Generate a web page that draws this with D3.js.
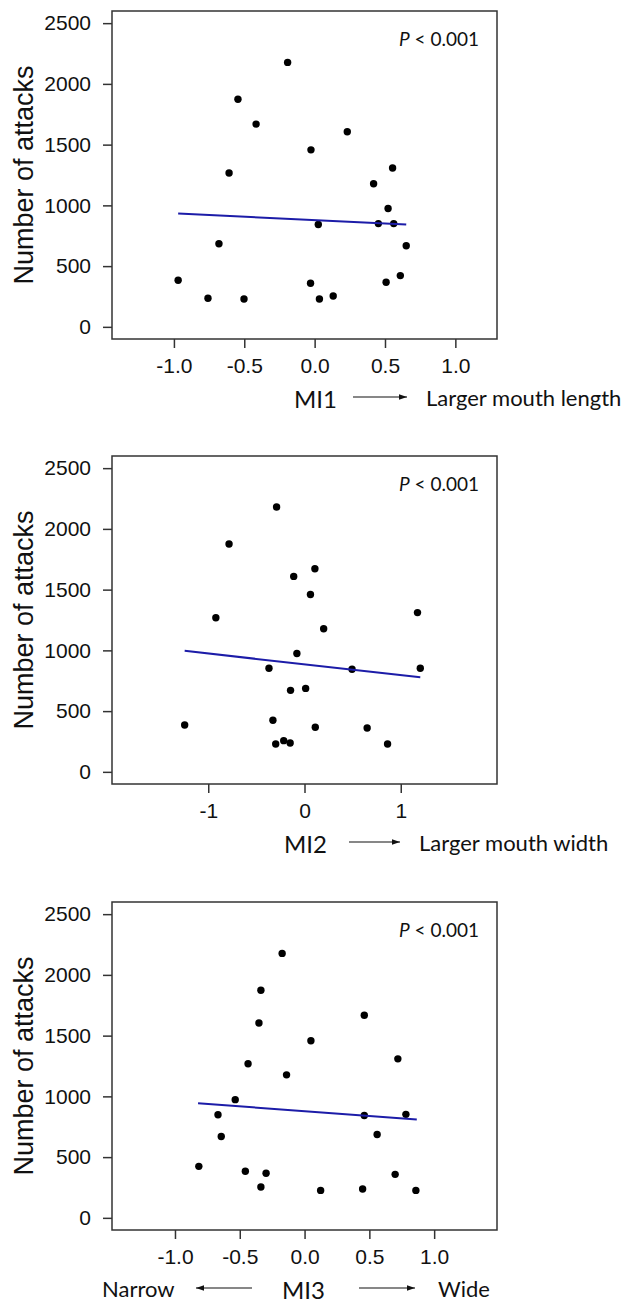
<!DOCTYPE html>
<html lang="en">
<head>
    <meta charset="UTF-8">
    <script src="https://cdn.jsdelivr.net/npm/d3@7"></script>
    <title>Number of attacks vs mouth indices</title>
    <style>
        body {
            margin: 0;
            background: #fff;
        }
        .tick-label {
            font-family: "Liberation Sans", Arial, sans-serif;
            font-size: 21px;
            fill: #111;
        }
        .y-title {
            font-family: "Liberation Sans", Arial, sans-serif;
            font-size: 27px;
            fill: #111;
        }
        .note, .mi-label, .desc {
            font-family: Lato, "Open Sans", sans-serif;
            fill: #111;
        }
    </style>
</head>
<body>
<div id="chart"></div>
<script>
    // values
    const yTicks = [0, 500, 1000, 1500, 2000, 2500];
    const xTicks13 = [-1.0, -0.5, 0.0, 0.5, 1.0];
    const xTicks2 = [-1, 0, 1];

    const mi1X = [-0.192, -0.545, -0.416, 0.232, -0.026, -0.608, 0.554, 0.419, 0.522, 0.026, 0.453,
                  0.562, -0.680, 0.651, -0.970, -0.029, 0.508, 0.609, -0.758, -0.502, 0.034, 0.132];
    const mi1Y = [2177, 1874, 1669, 1606, 1457, 1267, 1308, 1178, 974, 842, 850,
                  850, 684, 668, 384, 359, 367, 422, 235, 229, 229, 254];
    const mi1Fit = [[-0.970, 933], [0.651, 842]];

    const mi2X = [-0.290, -0.784, 0.108, -0.112, 0.062, -0.921, 1.174, 0.199, -0.079, -0.369, 0.494,
                  1.203, -0.145, 0.012, -1.245, -0.328, 0.112, 0.651, -0.299, -0.216, -0.149, 0.863];
    const mi2Y = [2180, 1876, 1672, 1609, 1460, 1269, 1311, 1178, 974, 853, 844,
                  853, 671, 687, 386, 425, 367, 361, 229, 257, 237, 229];
    const mi2Fit = [[-1.245, 996], [1.203, 778]];

    const mi3X = [-0.173, -0.337, 0.461, -0.352, 0.049, 0.720, -0.436, -0.139, -0.535, -0.668, 0.461,
                  0.782, -0.643, 0.560, -0.816, -0.457, -0.297, 0.699, -0.337, 0.124, 0.448, 0.859];
    const mi3Y = [2177, 1874, 1668, 1604, 1458, 1309, 1268, 1177, 973, 849, 843,
                  852, 670, 686, 424, 383, 367, 358, 254, 226, 237, 226];
    const mi3Fit = [[-0.822, 943], [0.866, 810]];

    const width = 627, height = 1304;
    const boxLeft = 112, boxW = 385, boxH = 328;

    const svg = d3.select("#chart").append("svg")
        .attr("width", width)
        .attr("height", height);

    svg.append("defs").append("marker")
        .attr("id", "head")
        .attr("viewBox", "0 0 10 10")
        .attr("refX", 10).attr("refY", 5)
        .attr("markerWidth", 8).attr("markerHeight", 8)
        .attr("markerUnits", "userSpaceOnUse")
        .attr("orient", "auto")
        .append("path")
        .attr("d", "M0,1.5L10,5L0,8.5Z")
        .attr("fill", "#111");

    // plain hyphen for negative numbers, like the original
    const locale = d3.formatLocale({ decimal: ".", thousands: ",", grouping: [3], currency: ["", ""], minus: "-" });
    const fmt1 = locale.format(".1f");
    const fmt0 = locale.format("d");

    const drawPanel = (p) => {
        const g = svg.append("g").attr("transform", `translate(0,${p.top})`);
        const x = d3.scaleLinear().domain(p.xDomain).range([boxLeft, boxLeft + boxW]);
        const y = d3.scaleLinear().domain([-100, 2600]).range([boxH, 0]);

        g.append("rect")
            .attr("x", boxLeft).attr("y", 0)
            .attr("width", boxW).attr("height", boxH)
            .attr("fill", "none").attr("stroke", "#333").attr("stroke-width", 1.5);

        const yAxis = g.append("g")
            .attr("transform", `translate(${boxLeft},0)`)
            .call(d3.axisLeft(y).tickValues(yTicks).tickSize(9).tickPadding(12).tickFormat(fmt0));
        const xAxis = g.append("g")
            .attr("transform", `translate(0,${boxH})`)
            .call(d3.axisBottom(x).tickValues(p.xTicks).tickSize(9).tickPadding(10).tickFormat(p.fmt));
        [yAxis, xAxis].forEach(a => {
            a.select(".domain").remove();
            a.selectAll(".tick line").attr("stroke", "#333").attr("stroke-width", 1.5);
            a.selectAll(".tick text").attr("class", "tick-label").attr("fill", null);
            a.attr("font-family", null).attr("font-size", null);
        });

        g.append("text")
            .attr("class", "y-title")
            .attr("transform", `translate(33,${boxH / 2}) rotate(-90)`)
            .attr("text-anchor", "middle")
            .text("Number of attacks");

        const pts = p.xs.map((v, i) => [v, p.ys[i]]);
        g.selectAll("circle.pt")
            .data(pts)
            .enter().append("circle")
            .attr("class", "pt")
            .attr("cx", d => x(d[0]))
            .attr("cy", d => y(d[1]))
            .attr("r", 3.7)
            .attr("fill", "#000");

        g.append("path")
            .datum(p.fit)
            .attr("d", d3.line().x(d => x(d[0])).y(d => y(d[1])))
            .attr("fill", "none")
            .attr("stroke", "#1c1ca8")
            .attr("stroke-width", 2);

        const note = g.append("text")
            .attr("class", "note")
            .attr("x", 479).attr("y", 35)
            .attr("text-anchor", "end")
            .attr("font-size", 19);
        note.append("tspan").attr("font-style", "italic").text("P");
        note.append("tspan").text(" < 0.001");

        // axis caption under the plot
        const capY = boxH + 69;
        g.append("text")
            .attr("class", "mi-label")
            .attr("x", p.miX).attr("y", capY)
            .attr("font-size", 24)
            .text(p.mi);
        p.descs.forEach(d => {
            g.append("text")
                .attr("class", "desc")
                .attr("x", d.x).attr("y", capY - 2)
                .attr("font-size", 22)
                .text(d.text);
        });
        p.arrows.forEach(a => {
            g.append("line")
                .attr("x1", a[0]).attr("x2", a[1])
                .attr("y1", boxH + 58).attr("y2", boxH + 58)
                .attr("stroke", "#111").attr("stroke-width", 1.2)
                .attr("marker-end", "url(#head)");
        });
    };

    drawPanel({
        top: 11, xDomain: [-1.44, 1.296], xTicks: xTicks13, fmt: fmt1,
        xs: mi1X, ys: mi1Y, fit: mi1Fit,
        mi: "MI1", miX: 294,
        descs: [{ text: "Larger mouth length", x: 426 }],
        arrows: [[353, 407]]
    });
    drawPanel({
        top: 456, xDomain: [-2, 2], xTicks: xTicks2, fmt: fmt0,
        xs: mi2X, ys: mi2Y, fit: mi2Fit,
        mi: "MI2", miX: 284,
        descs: [{ text: "Larger mouth width", x: 419 }],
        arrows: [[349, 400]]
    });
    drawPanel({
        top: 902, xDomain: [-1.486, 1.485], xTicks: xTicks13, fmt: fmt1,
        xs: mi3X, ys: mi3Y, fit: mi3Fit,
        mi: "MI3", miX: 282,
        descs: [{ text: "Narrow", x: 102 }, { text: "Wide", x: 438 }],
        arrows: [[252, 196], [359, 415]]
    });
</script>
</body>
</html>
